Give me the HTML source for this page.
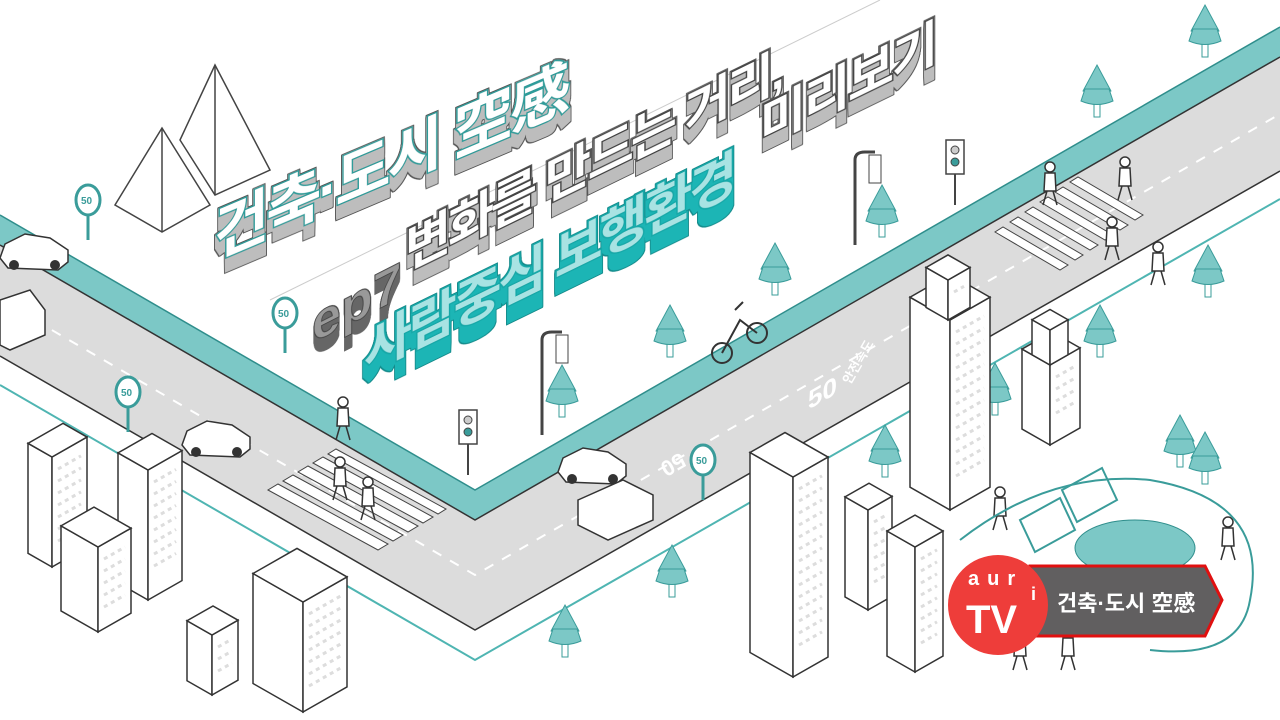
<!DOCTYPE html>
<html><head><meta charset="utf-8"><style>
html,body{margin:0;padding:0;background:#fff;width:1280px;height:720px;overflow:hidden}
svg{display:block}
text{font-family:"Liberation Sans","Noto Sans CJK KR",sans-serif;font-weight:bold}
</style></head><body>
<svg id="s" width="1280" height="720" viewBox="0 0 1280 720" xmlns="http://www.w3.org/2000/svg">
<defs>
<filter id="exG" x="-10%" y="-20%" width="120%" height="200%">
<feConvolveMatrix in="SourceAlpha" order="1 28" targetX="0" targetY="27" divisor="1" preserveAlpha="false" kernelMatrix="1 1 1 1 1 1 1 1 1 1 1 1 1 1 1 1 1 1 1 1 1 1 1 1 1 1 1 1" result="sm"/>
<feFlood flood-color="#bdbdbd"/><feComposite in2="sm" operator="in" result="f"/>
<feMorphology in="sm" operator="dilate" radius="1" result="d"/>
<feFlood flood-color="#555"/><feComposite in2="d" operator="in" result="o"/>
<feMerge><feMergeNode in="o"/><feMergeNode in="f"/><feMergeNode in="SourceGraphic"/></feMerge>
</filter>
<filter id="exT" x="-10%" y="-20%" width="120%" height="200%">
<feConvolveMatrix in="SourceAlpha" order="1 34" targetX="0" targetY="33" divisor="1" preserveAlpha="false" kernelMatrix="1 1 1 1 1 1 1 1 1 1 1 1 1 1 1 1 1 1 1 1 1 1 1 1 1 1 1 1 1 1 1 1 1 1" result="sm"/>
<feFlood flood-color="#1db5b5"/><feComposite in2="sm" operator="in" result="f"/>
<feMorphology in="sm" operator="dilate" radius="1" result="d"/>
<feFlood flood-color="#128a8a"/><feComposite in2="d" operator="in" result="o"/>
<feMerge><feMergeNode in="o"/><feMergeNode in="f"/><feMergeNode in="SourceGraphic"/></feMerge>
</filter>
<filter id="exD" x="-10%" y="-20%" width="120%" height="200%">
<feConvolveMatrix in="SourceAlpha" order="1 28" targetX="0" targetY="27" divisor="1" preserveAlpha="false" kernelMatrix="1 1 1 1 1 1 1 1 1 1 1 1 1 1 1 1 1 1 1 1 1 1 1 1 1 1 1 1" result="sm"/>
<feFlood flood-color="#666"/><feComposite in2="sm" operator="in" result="f"/>
<feMerge><feMergeNode in="f"/><feMergeNode in="SourceGraphic"/></feMerge>
</filter>
</defs>
<rect width="1280" height="720" fill="#fff"/>
<!-- road -->
<polygon points="0,245 475,520 1280,57 1280,171 475,630 0,356" fill="#dcdcdc"/>
<polyline points="0,356 475,630 1280,171" fill="none" stroke="#333" stroke-width="1.5"/>
<polygon points="0,215 475,490 1280,27 1280,57 475,520 0,245" fill="#7cc8c6"/>
<polyline points="0,215 475,490 1280,27" fill="none" stroke="#2f8e8c" stroke-width="1.5"/>
<polyline points="0,245 475,520 1280,57" fill="none" stroke="#333" stroke-width="1.5"/>
<polyline points="0,385 475,660 1280,199" fill="none" stroke="#4fb5b2" stroke-width="2"/>
<polyline points="0,300 475,575 1280,114" fill="none" stroke="#fff" stroke-width="2" stroke-dasharray="10,10"/>
<!-- crosswalks -->
<g fill="#fff" stroke="#444" stroke-width="1">
<polygon points="268,490 378,550 388,544 278,484"/><polygon points="283,481 393,541 403,535 293,475"/>
<polygon points="298,472 408,532 418,526 308,466"/><polygon points="313,463 423,523 433,517 323,457"/>
<polygon points="328,454 438,514 446,509 336,449"/>
<polygon points="995,232 1060,270 1068,265 1003,227"/><polygon points="1010,222 1075,260 1083,255 1018,217"/>
<polygon points="1025,212 1090,250 1098,245 1033,207"/><polygon points="1040,202 1105,240 1113,235 1048,197"/>
<polygon points="1055,192 1120,230 1128,225 1063,187"/><polygon points="1070,182 1135,220 1143,215 1078,177"/>
</g>
<text x="0" y="0" font-size="26" fill="#fff" transform="translate(808,410) skewY(-30)">50</text>
<text x="0" y="0" font-size="13" fill="#fff" transform="translate(850,385) rotate(-60)">안전속도</text>
<text x="0" y="0" font-size="22" fill="#fff" transform="translate(680,452) rotate(150)">50</text>
<!-- pyramids -->
<g fill="#fff" stroke="#444" stroke-width="1.5">
<polygon points="215,65 270,170 215,195 180,140"/><line x1="215" y1="65" x2="215" y2="195"/>
<polygon points="162,128 210,205 162,232 115,205"/><line x1="162" y1="128" x2="162" y2="232"/>
</g>
<g id="dyn"></g>
<line x1="270" y1="300" x2="880" y2="0" stroke="#ccc" stroke-width="1"/>
<!-- titles -->
<g font-size="60" letter-spacing="-3" filter="url(#exG)" transform="translate(214,258) skewY(-23)">
<text x="0" y="0" fill="#fff" stroke="#2f9c9a" stroke-width="3" paint-order="stroke">건축·도시 空感</text>
</g>
<g font-size="50" letter-spacing="-3" filter="url(#exG)" transform="translate(405,270) skewY(-26)">
<text x="0" y="0" fill="#fff" stroke="#444" stroke-width="3" paint-order="stroke">변화를 만드는 거리,</text>
</g>
<g font-size="50" letter-spacing="-2" filter="url(#exG)" transform="translate(760,145) skewY(-26)">
<text x="0" y="0" fill="#fff" stroke="#444" stroke-width="3" paint-order="stroke">미리보기</text>
</g>
<g font-size="52" filter="url(#exD)" transform="translate(312,343) skewY(-27)">
<text x="0" y="0" fill="#999" stroke="#444" stroke-width="1">ep7</text>
</g>
<g font-size="52" letter-spacing="-3" filter="url(#exT)" transform="translate(364,372) skewY(-26)">
<text x="0" y="0" fill="#a8e3e3" stroke="#12a8a8" stroke-width="3" paint-order="stroke">사람중심 보행환경</text>
</g>
<!-- park -->
<path d="M960,540 Q1050,470 1150,480 Q1270,500 1250,600 Q1240,660 1150,650" fill="none" stroke="#3a9c9a" stroke-width="2"/>
<ellipse cx="1135" cy="548" rx="60" ry="28" fill="#7cc8c6" stroke="#2f8e8c"/>
<g fill="none" stroke="#3a9c9a" stroke-width="2">
<polygon points="1020,520 1060,498 1075,530 1035,552"/><polygon points="1062,490 1102,468 1117,500 1077,522"/>
</g>
<!-- logo -->
<polygon points="1030,566 1205,566 1222,600 1205,636 1030,636" fill="#615f60" stroke="#e01010" stroke-width="3"/>
<text x="1057" y="611" font-size="22" fill="#fff">건축·도시 空感</text>
<circle cx="998" cy="605" r="50" fill="#ee3d3a"/>
<text x="968" y="585" font-size="20" fill="#fff" letter-spacing="8">aur</text>
<text x="1031" y="600" font-size="18" fill="#fff">i</text>
<text x="966" y="633" font-size="40" fill="#fff">TV</text>
</svg>
<script>
(function(){
var ns="http://www.w3.org/2000/svg",g=document.getElementById("dyn");
function el(t,a){var e=document.createElementNS(ns,t);for(var k in a)e.setAttribute(k,a[k]);g.appendChild(e);return e;}
function P(a){return a.map(function(p){return p[0]+","+p[1]}).join(" ");}
function box(fx,fy,lw,rw,h){
 var L=[fx-lw,fy-lw*0.57],R=[fx+rw,fy-rw*0.57],B=[fx-lw+rw,fy-lw*0.57-rw*0.57];
 el("polygon",{points:P([[fx,fy],L,[L[0],L[1]-h],[fx,fy-h]]),fill:"#fff",stroke:"#333","stroke-width":1.5});
 el("polygon",{points:P([[fx,fy],R,[R[0],R[1]-h],[fx,fy-h]]),fill:"#fff",stroke:"#333","stroke-width":1.5});
 el("polygon",{points:P([[fx,fy-h],[L[0],L[1]-h],[B[0],B[1]-h],[R[0],R[1]-h]]),fill:"#fff",stroke:"#333","stroke-width":1.5});
 for(var y=fy-h+15;y<fy-20;y+=12){el("line",{x1:fx+6,y1:y-3,x2:fx+rw-6,y2:y-3-(rw-12)*0.57,stroke:"#ddd","stroke-width":3,"stroke-dasharray":"4,4"});}
}
function tree(x,y,s){s=s||1;
 el("rect",{x:x-3*s,y:y-2,width:6*s,height:14*s,fill:"#fff",stroke:"#3a9c9a"});
 el("path",{d:"M"+x+","+(y-40*s)+" L"+(x+14*s)+","+(y-14*s)+" Q"+x+","+(y-6*s)+" "+(x-14*s)+","+(y-14*s)+" Z",fill:"#7cc8c6",stroke:"#3a9c9a"});
 el("path",{d:"M"+(x-12*s)+","+(y-16*s)+" L"+(x-16*s)+","+(y-4*s)+" Q"+x+","+(y+3*s)+" "+(x+16*s)+","+(y-4*s)+" L"+(x+12*s)+","+(y-16*s)+" Z",fill:"#7cc8c6",stroke:"#3a9c9a"});
}
function sign(x,y){el("line",{x1:x,y1:y,x2:x,y2:y+40,stroke:"#3a9c9a","stroke-width":3});
 el("ellipse",{cx:x,cy:y,rx:12,ry:15,fill:"#fff",stroke:"#3a9c9a","stroke-width":3});
 var t=el("text",{x:x-7,y:y+4,"font-size":10,fill:"#3a9c9a"});t.textContent="50";}
function light(x,y,h){el("line",{x1:x,y1:y,x2:x,y2:y+h,stroke:"#444","stroke-width":2});
 el("rect",{x:x-9,y:y-30,width:18,height:34,fill:"#fff",stroke:"#444","stroke-width":1.5});
 el("circle",{cx:x,cy:y-20,r:4,fill:"#ccc",stroke:"#444"});el("circle",{cx:x,cy:y-8,r:4,fill:"#3a9c9a",stroke:"#444"});}
function pole(x,y,h){el("path",{d:"M"+x+","+(y+h)+" L"+x+","+y+" Q"+x+","+(y-8)+" "+(x+10)+","+(y-8)+" L"+(x+20)+","+(y-8),fill:"none",stroke:"#444","stroke-width":3});
 el("rect",{x:x+14,y:y-5,width:12,height:28,fill:"#fff",stroke:"#444"});}
function car(x,y){el("path",{d:"M"+x+","+(y+20)+" l5,-14 l20,-10 l25,4 l18,12 l0,12 l-10,8 l-50,-2 z",fill:"#fff",stroke:"#333","stroke-width":1.5});
 el("circle",{cx:x+14,cy:y+27,r:5,fill:"#333"});el("circle",{cx:x+55,cy:y+27,r:5,fill:"#333"});}
[[1205,45],[1097,105],[775,283],[670,345],[1208,285],[1100,345],[995,403],[885,465],[672,585],[565,645],[1180,455],[1205,472],[562,405],[882,225]].forEach(function(t){tree(t[0],t[1]);});
pole(855,160,85);pole(542,340,95);light(955,170,35);light(468,440,35);
sign(88,200);sign(285,313);sign(128,392);sign(703,460);
car(0,238);car(182,425);car(558,452);
el("path",{d:"M0,300 l30,-10 l15,20 l0,25 l-35,15 l-10,-5 z",fill:"#fff",stroke:"#333","stroke-width":1.5});
el("path",{d:"M578,500 l45,-20 l30,15 l0,25 l-45,20 l-30,-15 z",fill:"#fff",stroke:"#333","stroke-width":1.5});
el("circle",{cx:722,cy:353,r:10,fill:"none",stroke:"#333","stroke-width":2});el("circle",{cx:757,cy:333,r:10,fill:"none",stroke:"#333","stroke-width":2});
el("path",{d:"M722,353 L740,320 L757,333 M735,310 l8,-8",fill:"none",stroke:"#333","stroke-width":2});
[[343,440],[340,500],[368,520],[1050,205],[1125,200],[1112,260],[1158,285],[1000,530],[1228,560],[1020,670],[1068,670]].forEach(function(p){
 el("circle",{cx:p[0],cy:p[1]-38,r:5,fill:"#fff",stroke:"#333","stroke-width":1.5});
 el("path",{d:"M"+(p[0]-5)+","+(p[1]-32)+" l10,0 l1,18 l-12,0 z M"+(p[0]-3)+","+(p[1]-14)+" l-4,14 M"+(p[0]+3)+","+(p[1]-14)+" l4,14",fill:"#fff",stroke:"#333","stroke-width":1.5});});
box(52,567,24,35,110);box(148,600,30,34,130);box(98,632,37,33,85);box(212,695,25,26,60);box(303,712,50,44,110);
box(950,510,40,40,190);box(948,320,22,22,40);box(1050,445,28,30,80);box(1050,365,18,18,35);
box(868,610,23,24,100);box(793,677,43,35,200);box(915,672,28,28,125);
})();
</script>
</body></html>
